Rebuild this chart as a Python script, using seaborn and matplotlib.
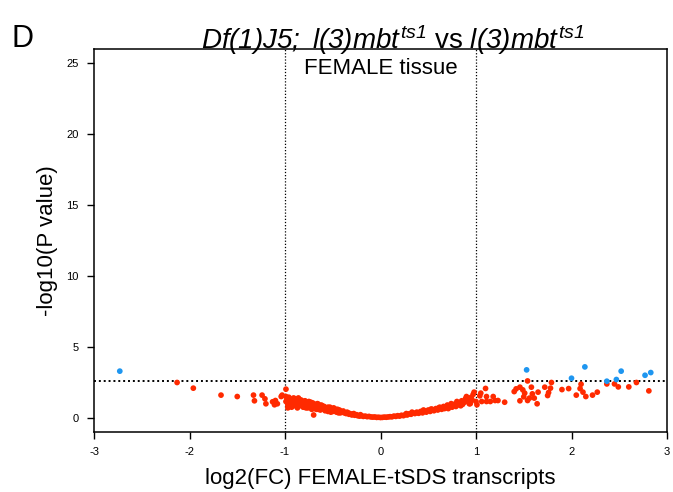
import matplotlib
matplotlib.use("Agg")
import matplotlib.pyplot as plt
import seaborn as sns
import pandas as pd

# ---- data ----
blue_x = [-2.73, 1.53, 2.14, 2.00, 2.37, 2.47, 2.52, 2.77, 2.83]
blue_y = [3.29, 3.38, 3.59, 2.79, 2.58, 2.70, 3.29, 3.00, 3.19]

red_left_x = [-2.13, -1.96, -1.67, -1.50, -1.33, -1.32, -1.24, -1.21, -1.20, -1.13,
              -1.10, -1.08, -1.04, -1.03, -0.99, -0.99, -0.97, -1.11]
red_left_y = [2.49, 2.09, 1.60, 1.50, 1.60, 1.20, 1.60, 1.34, 0.99, 1.13,
              1.22, 0.99, 1.50, 1.60, 2.02, 1.15, 0.92, 0.92]

red_mid_x = [-0.98, -0.97, -0.96, -0.95, -0.95, -0.94, -0.93, -0.92, -0.91, -0.90,
             -0.90, -0.89, -0.88, -0.87, -0.86, -0.85, -0.85, -0.84, -0.83, -0.82,
             -0.81, -0.80, -0.80, -0.79, -0.78, -0.77, -0.76, -0.75, -0.75, -0.74,
             -0.73, -0.72, -0.71, -0.70, -0.70, -0.69, -0.68, -0.67, -0.66, -0.65,
             -0.65, -0.64, -0.63, -0.62, -0.61, -0.60, -0.59, -0.58, -0.57, -0.56,
             -0.55, -0.54, -0.53, -0.52, -0.51, -0.50, -0.49, -0.48, -0.47, -0.46,
             -0.45, -0.44, -0.43, -0.42, -0.41, -0.40,
             -0.38, -0.36, -0.35, -0.33, -0.32, -0.30, -0.29, -0.27, -0.25, -0.24,
             -0.22, -0.20, -0.18, -0.16, -0.14, -0.12, -0.10, -0.08, -0.06, -0.04,
             -0.02, 0.00, 0.02, 0.04, 0.06, 0.08, 0.10, 0.12, 0.14, 0.16,
             0.18, 0.20, 0.22, 0.24, 0.26, 0.28, 0.30, 0.32, 0.34, 0.36,
             0.38, 0.40,
             0.42, 0.44, 0.46, 0.48, 0.50, 0.52, 0.54, 0.56, 0.58, 0.60,
             0.62, 0.64, 0.66, 0.68, 0.70, 0.71, 0.73, 0.75, 0.77, 0.79,
             0.81, 0.83, 0.85, 0.86, 0.88, 0.90, 0.92, 0.94, 0.96, 0.97]
red_mid_y = [1.25, 0.95, 1.45, 1.10, 0.80, 1.30, 1.00, 1.20, 0.85, 1.15,
             1.35, 0.95, 1.05, 1.25, 0.80, 1.10, 0.90, 1.20, 0.95, 1.05,
             0.75, 1.15, 0.90, 1.00, 0.85, 1.10, 0.70, 0.95, 1.05, 0.80,
             0.90, 1.00, 0.75, 0.20, 0.90, 0.80, 0.95, 0.70, 0.85, 0.75,
             0.60, 0.80, 0.70, 0.90, 0.65, 0.75, 0.60, 0.70, 0.55, 0.65,
             0.75, 0.50, 0.60, 0.55, 0.65, 0.45, 0.55, 0.50, 0.60, 0.40,
             0.50, 0.45, 0.55, 0.35, 0.45, 0.40,
             0.35, 0.30, 0.40, 0.25, 0.30, 0.20, 0.28, 0.18, 0.22, 0.15,
             0.12, 0.15, 0.10, 0.12, 0.08, 0.10, 0.06, 0.05, 0.06, 0.03,
             0.04, 0.02, 0.03, 0.05, 0.04, 0.06, 0.08, 0.07, 0.12, 0.10,
             0.15, 0.12, 0.18, 0.15, 0.22, 0.20, 0.28, 0.25, 0.35, 0.30,
             0.40, 0.32,
             0.45, 0.35, 0.50, 0.40, 0.55, 0.45, 0.60, 0.50, 0.65, 0.55,
             0.75, 0.60, 0.80, 0.70, 0.90, 0.65, 0.85, 0.75, 0.95, 0.80,
             1.05, 0.90, 1.20, 0.95, 1.10, 1.50, 1.30, 1.00, 1.25, 1.65]

# extra points that thicken the band between -1 and -0.4 and near +0.8..+1
red_band_x = [-0.99, -0.97, -0.95, -0.93, -0.91, -0.89, -0.87, -0.85, -0.83, -0.81,
              -0.79, -0.77, -0.75, -0.73, -0.71, -0.69, -0.67, -0.65, -0.63, -0.61,
              -0.59, -0.57, -0.55, -0.53, -0.51, -0.49, -0.47, -0.45, -0.92, -0.86,
              -0.78, -0.72, -0.66, -0.58, -0.52, -0.44, -0.39, -0.34, -0.28, -0.21,
              0.27, 0.33, 0.39, 0.45, 0.53, 0.61, 0.67, 0.74, 0.80, 0.84, 0.89, 0.95]
red_band_y = [1.50, 0.70, 1.35, 0.75, 1.40, 1.15, 0.70, 1.30, 1.25, 0.95,
              1.20, 0.80, 1.15, 1.10, 1.05, 0.65, 0.60, 0.95, 0.55, 0.85,
              0.80, 0.70, 0.45, 0.75, 0.50, 0.70, 0.45, 0.60, 0.95, 1.40,
              0.70, 0.60, 1.00, 0.50, 0.40, 0.35, 0.48, 0.35, 0.30, 0.22,
              0.30, 0.40, 0.35, 0.55, 0.62, 0.70, 0.65, 1.00, 1.15, 0.85, 1.35, 1.45]

red_right_x = [0.98, 1.05, 1.10, 1.04, 0.94, 1.00, 1.06, 1.11, 1.15, 1.20,
               1.23, 1.30, 1.11, 1.18, 0.93, 1.01, 1.40, 1.42, 1.46, 1.49,
               1.51, 1.58, 1.56, 1.54, 1.46, 1.50, 1.59, 1.61, 1.65, 1.64,
               1.72, 1.75, 1.76, 1.78, 1.79, 1.90, 1.97, 2.05, 2.09, 2.10,
               2.12, 2.15, 2.22, 2.27, 2.37, 2.45, 2.49, 2.60, 2.68, 2.81, 1.54]
red_right_y = [1.81, 1.74, 2.07, 1.55, 1.36, 1.15, 1.15, 1.15, 1.15, 1.22,
               1.22, 1.10, 1.50, 1.50, 0.99, 0.92, 1.85, 2.04, 2.16, 1.97,
               1.74, 2.16, 1.39, 1.22, 1.20, 1.48, 1.69, 1.39, 1.81, 0.99,
               2.16, 1.57, 1.78, 2.09, 2.49, 1.99, 2.06, 1.60, 2.06, 2.37,
               1.81, 1.50, 1.60, 1.81, 2.39, 2.39, 2.18, 2.18, 2.49, 1.90, 2.60]

threshold = 2.6
fc_cut = [-1, 1]
x_ticks = [-3, -2, -1, 0, 1, 2, 3]
y_ticks = [0, 5, 10, 15, 20, 25]

red_x = red_left_x + red_mid_x + red_band_x + red_right_x
red_y = red_left_y + red_mid_y + red_band_y + red_right_y
df = pd.DataFrame({
    "x": red_x + blue_x,
    "y": red_y + blue_y,
    "sig": ["no"] * len(red_x) + ["yes"] * len(blue_x),
})

sns.set_theme(style="ticks")
plt.rcParams["font.family"] = ["Liberation Sans", "DejaVu Sans"]
plt.rcParams["mathtext.fontset"] = "custom"
plt.rcParams["mathtext.it"] = "Liberation Sans:italic"
plt.rcParams["mathtext.rm"] = "Liberation Sans:italic"
plt.rcParams["mathtext.sf"] = "Liberation Sans:italic"
plt.rcParams["mathtext.default"] = "it"
for key in ["text.color", "axes.labelcolor", "xtick.color", "ytick.color"]:
    plt.rcParams[key] = "black"

fig = plt.figure(figsize=(6.73, 4.92), dpi=100)
ax = fig.add_axes([94 / 673, 60 / 492, (667 - 94) / 673, (432 - 49) / 492])

sns.scatterplot(data=df, x="x", y="y", hue="sig",
                palette={"no": "#ff2a00", "yes": "#1e96f0"},
                s=17, linewidth=0, legend=False, ax=ax, zorder=3)

for v in fc_cut:
    ax.axvline(v, color="black", linestyle=(0, (1, 1.5)), linewidth=0.9, zorder=2)
ax.axhline(threshold, color="black", linestyle=(0, (1, 1.5)), linewidth=1.4, zorder=2)

ax.set_xlim(-3, 3)
ax.set_ylim(-1, 26)
ax.set_xticks(x_ticks)
ax.set_yticks(y_ticks)
ax.set_xticklabels([str(t) for t in x_ticks])
ax.set_yticklabels([str(t) for t in y_ticks])
ax.tick_params(axis="both", labelsize=8, length=5, width=1, direction="out", pad=6,
               colors="black")
for sp in ax.spines.values():
    sp.set_color("black")
    sp.set_linewidth(1.1)

ax.set_xlabel("log2(FC) FEMALE-tSDS transcripts", fontsize=16, labelpad=8, color="black")
ax.set_ylabel("-log10(P value)", fontsize=16, labelpad=6, color="black")

ax.text(0, 24.6, "FEMALE tissue", ha="center", va="center", fontsize=16, zorder=4,
        color="black")

fig.text(393 / 673, 1 - 40 / 492,
         r"$Df(1)J5;$ $l(3)mbt^{ts1}$ vs $l(3)mbt^{ts1}$",
         ha="center", va="center", fontsize=20, color="black")
fig.text(22 / 673, 1 - 39 / 492, "D", ha="center", va="center", fontsize=22,
         color="black")

fig.savefig("out.png", dpi=100)
